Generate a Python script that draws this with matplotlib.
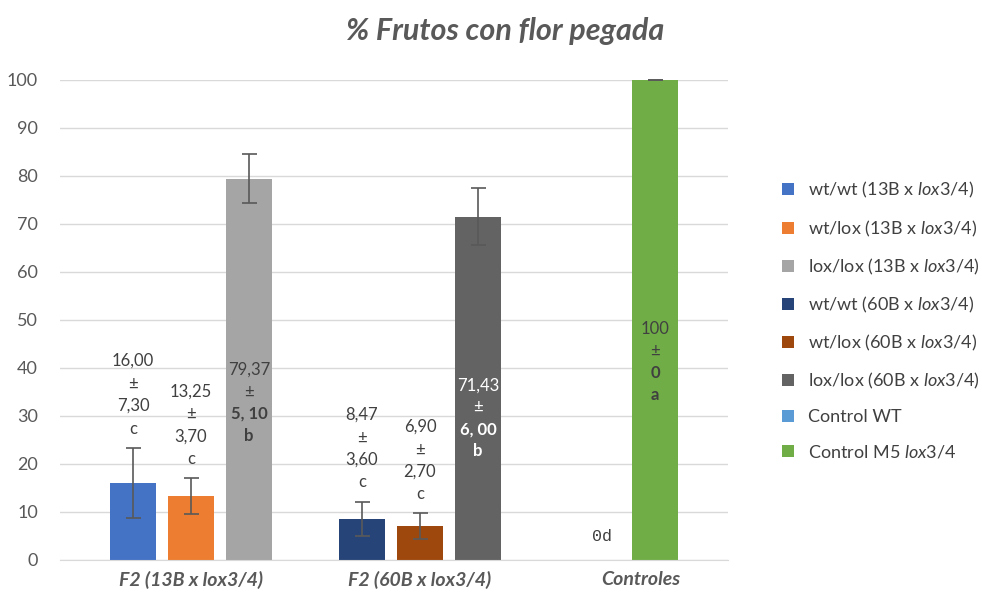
import matplotlib
matplotlib.use("Agg")
import matplotlib.pyplot as plt
from matplotlib.patches import Patch

plt.rcParams['font.family'] = ['Lato', 'DejaVu Sans']
plt.rcParams['mathtext.fontset'] = 'custom'
plt.rcParams['mathtext.rm'] = 'Lato'
plt.rcParams['mathtext.it'] = 'Lato:italic'

# --- data ---
categories = ['F2 (13B x lox3/4)', 'F2 (60B x lox3/4)', 'Controles']
series_names = [
    'wt/wt (13B x $\\mathit{lox3/4}$)',
    'wt/lox (13B x $\\mathit{lox3/4}$)',
    'lox/lox (13B x $\\mathit{lox3/4}$)',
    'wt/wt (60B x $\\mathit{lox3/4}$)',
    'wt/lox (60B x $\\mathit{lox3/4}$)',
    'lox/lox (60B x $\\mathit{lox3/4}$)',
    'Control WT',
    'Control M5 $\\mathit{lox3/4}$',
]
series_cat = [0, 0, 0, 1, 1, 1, 2, 2]
values = [16.00, 13.25, 79.37, 8.47, 6.90, 71.43, 0, 100]
errors = [7.30, 3.70, 5.10, 3.60, 2.70, 6.00, 0, 0]
value_text = ['16,00', '13,25', '79,37', '8,47', '6,90', '71,43', '0', '100']
error_text = ['7,30', '3,70', '5, 10', '3,60', '2,70', '6, 00', '', '0']
letters = ['c', 'c', 'b', 'c', 'c', 'b', 'd', 'a']
colors = ['#4472C4', '#ED7D31', '#A5A5A5', '#264478', '#9E480E', '#636363',
          '#5B9BD5', '#70AD47']

# bar offsets inside each category
offsets = [-0.253, 0.0, 0.253, -0.253, 0.0, 0.253, -0.17, 0.061]
cat_pos = [0.0, 1.0, 1.965]
bar_w = 0.2

fig = plt.figure(figsize=(9.82, 5.92), dpi=100)
ax = fig.add_axes([60 / 982, 32.5 / 592, 668 / 982, 480 / 592])

xs = [cat_pos[c] + o for c, o in zip(series_cat, offsets)]
for i in range(len(values)):
    ax.bar(xs[i], values[i], width=bar_w, color=colors[i], zorder=2)
    if values[i] > 0:
        ax.errorbar(xs[i], values[i], yerr=errors[i], fmt='none', ecolor='#595959',
                    elinewidth=1.2, capsize=5.4, capthick=1.2, zorder=3, clip_on=False)

# value labels
for i in range(len(values)):
    if values[i] == 0:
        ax.text(xs[i], 4.8, '0' + letters[i], ha='center', va='center', fontsize=12,
                color='#404040', family='Liberation Mono')
        continue
    if values[i] > 50:
        tc = 'white' if colors[i] == '#636363' else '#404040'
        y = values[i] * 0.41 + 0.8
        ax.text(xs[i], y, value_text[i] + '\n±', ha='center', va='bottom',
                fontsize=12, color=tc, linespacing=1.45, zorder=4)
        ax.text(xs[i], y - 1.3, error_text[i] + '\n' + letters[i], ha='center', va='top',
                fontsize=12, color=tc, fontweight='bold', linespacing=1.45, zorder=4)
    else:
        ax.annotate(value_text[i] + '\n±\n' + error_text[i] + '\n' + letters[i],
                    (xs[i], values[i] + errors[i]), xytext=(0, 8), textcoords='offset points',
                    ha='center', va='bottom', fontsize=12, color='#404040',
                    linespacing=1.5, zorder=4)

ax.set_xlim(-0.572, 2.345)
ax.set_ylim(0, 100)
ax.set_yticks(range(0, 101, 10))
ax.set_xticks(cat_pos)
ax.set_xticklabels(categories, fontsize=14, fontweight='bold', style='italic', color='#595959')
ax.tick_params(axis='y', length=0, pad=16, labelsize=13, labelcolor='#595959')
ax.tick_params(axis='x', length=0, pad=8)
ax.grid(axis='y', color='#D9D9D9', linewidth=1.0, zorder=0)
for s in ['top', 'right', 'left']:
    ax.spines[s].set_visible(False)
ax.spines['bottom'].set_color('#D9D9D9')
ax.set_axisbelow(True)

fig.text(505 / 982, 1 - 31 / 592, '% Frutos con flor pegada', ha='center', va='center',
         fontsize=22, fontweight='bold', style='italic', color='#595959')

handles = [Patch(facecolor=c) for c in colors]
fig.legend(handles, series_names, loc='upper left', bbox_to_anchor=(766 / 982, 1 - 164 / 592),
           frameon=False, fontsize=13, labelcolor='#404040', handlelength=0.65,
           handleheight=0.65, handletextpad=0.8, labelspacing=1.0)

fig.savefig('out.png', dpi=100)
